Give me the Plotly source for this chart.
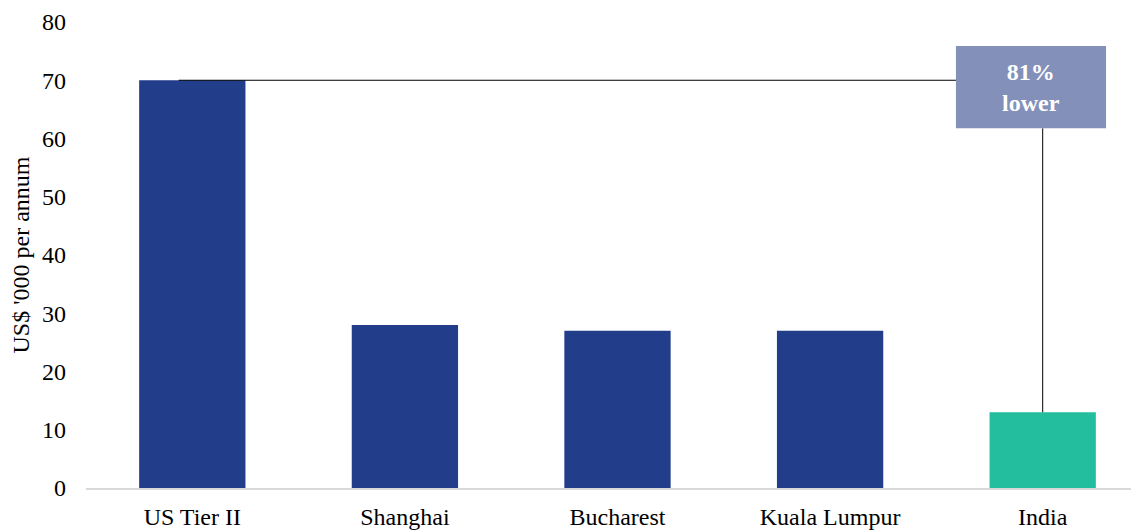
import plotly.graph_objects as go

categories = ["US Tier II", "Shanghai", "Bucharest", "Kuala Lumpur", "India"]
values = [70, 28, 27, 27, 13]
bar_colors = ["#223D8A", "#223D8A", "#223D8A", "#223D8A", "#22BE9E"]
y_ticks = [0, 10, 20, 30, 40, 50, 60, 70, 80]
callout_text = "81%<br>lower"

fig = go.Figure()
fig.add_trace(go.Bar(
    x=list(range(len(categories))), y=values,
    marker=dict(color=bar_colors, line=dict(width=0)),
    width=0.5, showlegend=False, hoverinfo="skip",
))

font_family = "Liberation Serif, Times New Roman, serif"
fs = 24

# reference line at US level
fig.add_shape(type="line", xref="x", yref="y", x0=-0.064, x1=3.592, y0=values[0], y1=values[0],
              line=dict(color="black", width=1), layer="above")
# vertical connector to India bar
fig.add_shape(type="line", xref="x", yref="y", x0=4, x1=4, y0=61.75, y1=values[4],
              line=dict(color="black", width=1), layer="above")
# callout box
fig.add_shape(type="rect", xref="x", yref="y", x0=3.592, x1=4.298, y0=61.75, y1=75.9,
              fillcolor="#8390BA", line=dict(width=0), layer="above")
fig.add_annotation(x=(3.592 + 4.298) / 2, y=(61.75 + 75.9) / 2, xref="x", yref="y",
                   text="<b>" + callout_text + "</b>", showarrow=False,
                   font=dict(family=font_family, size=fs, color="white"), align="center")

fig.update_layout(
    width=1131, height=524,
    margin=dict(l=78, r=0, t=14, b=44, autoexpand=False),
    plot_bgcolor="white", paper_bgcolor="white",
    font=dict(family=font_family, size=fs, color="black"),
    xaxis=dict(
        range=[-0.5, 4.453], tickmode="array", tickvals=list(range(len(categories))),
        ticktext=categories, showgrid=False, zeroline=False, automargin=False,
        showline=True, linecolor="#D9D9D9", linewidth=1.5, ticks="", ticklabelstandoff=6,
        tickfont=dict(size=fs, family=font_family, color="black"),
        ticklabeloverflow="allow",
    ),
    yaxis=dict(
        range=[0, 80], tickmode="array", tickvals=y_ticks, showgrid=False, zeroline=False,
        showline=False, ticks="", ticklabelstandoff=19, automargin=False,
        ticklabeloverflow="allow",
        tickfont=dict(size=fs, family=font_family, color="black"),
        title=dict(text="US$ '000 per annum", font=dict(size=fs, family=font_family, color="black"),
                   standoff=12),
    ),
)

fig.write_html("out.html")
